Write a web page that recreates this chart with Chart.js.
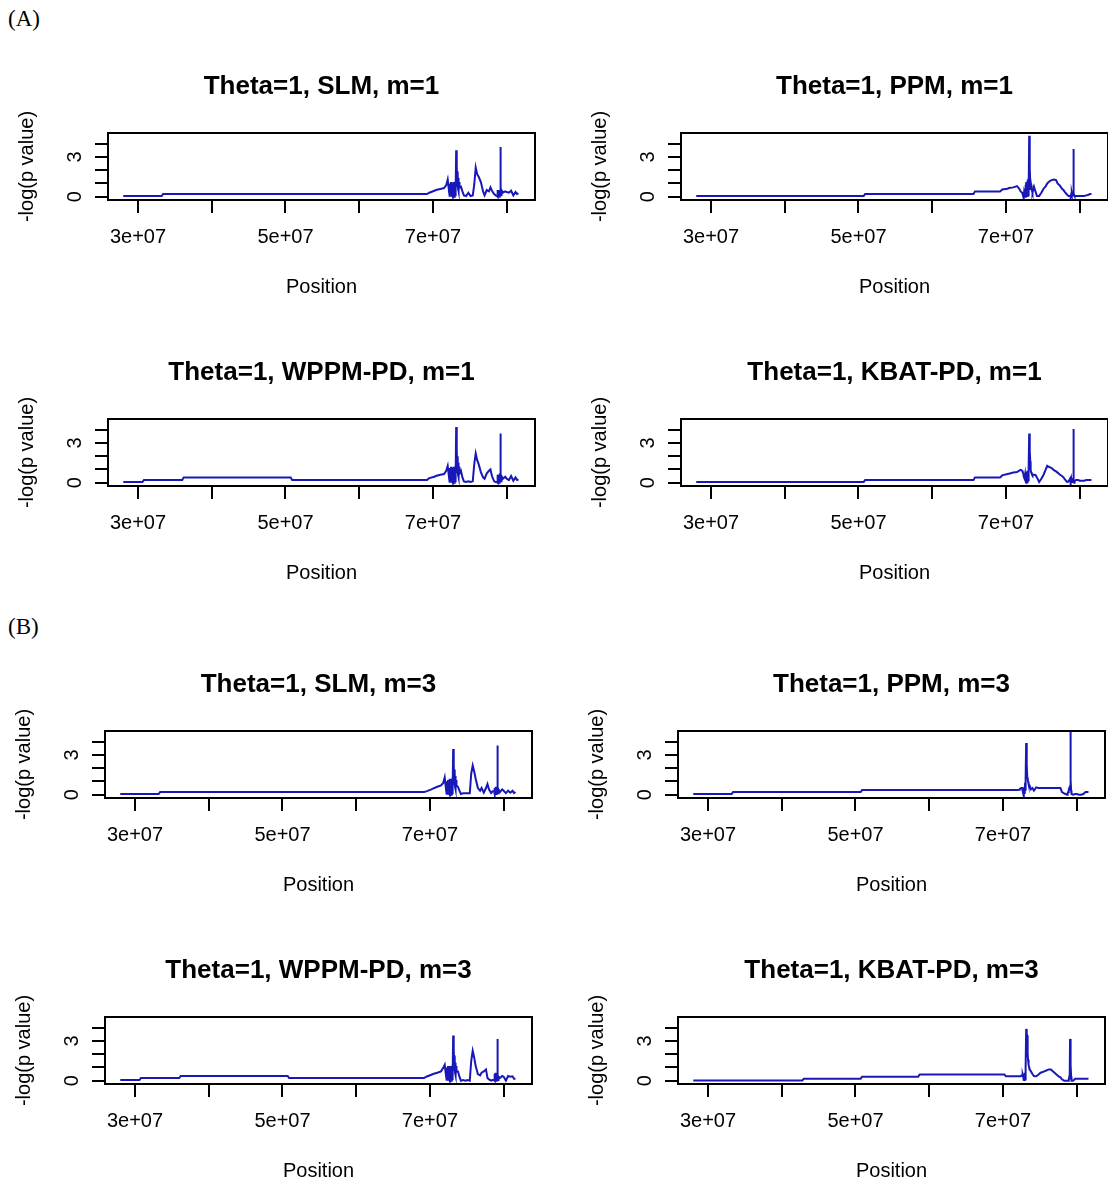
<!DOCTYPE html>
<html>
<head>
<meta charset="utf-8">
<script src="https://cdn.jsdelivr.net/npm/chart.js@4.4.1/dist/chart.umd.min.js"></script>
<style>
  html, body { margin: 0; padding: 0; background: #fff; }
  #page { position: relative; width: 1108px; height: 1179px; overflow: hidden; background: #fff; }
  #page canvas { position: absolute; }
  .tag { position: absolute; font-family: "Liberation Serif", "Times New Roman", serif; font-size: 23px; color: #000; }
</style>
</head>
<body>
<div id="page">
  <div class="tag" style="left:8px;top:6px">(A)</div>
  <div class="tag" style="left:8px;top:614px">(B)</div>
</div>
<script>
// SNP positions in Mb, the same for every panel
const positions = [
  28.0, 30.6, 30.8, 33.2, 33.4, 36.0, 36.2, 42.8, 43.0, 50.7, 50.9, 58.5, 58.7, 65.6, 65.8, 69.2, 69.5, 70.2, 70.4, 71.0, 71.5, 71.8, 72.0,
  72.2, 72.25, 72.3, 72.35, 72.4, 72.45, 72.5, 72.55, 72.6, 72.65, 72.7, 72.75, 72.8, 72.85, 72.9, 72.95, 73.0, 73.05, 73.1, 73.15, 73.2, 73.25, 73.3, 73.35, 73.4, 73.45, 73.5, 73.55, 73.6,
  73.8, 74.0, 74.2, 74.5, 74.8, 75.1, 75.4, 75.6, 75.8, 76.0, 76.2, 76.5, 76.8, 77.0, 77.3, 77.6, 77.8, 78.0, 78.3, 78.5,
  78.7, 78.75, 78.8, 78.85, 78.9, 78.95, 79.0, 79.05, 79.1, 79.15, 79.2, 79.25, 79.3,
  79.5, 79.8, 80.0, 80.3, 80.6, 80.9, 81.2, 81.4, 81.6
];

// -log(p value) for each method
const slmM1 = [
  0.05, 0.05, 0.05, 0.05, 0.2, 0.2, 0.2, 0.2, 0.2, 0.2, 0.2, 0.2, 0.2, 0.2, 0.2, 0.2, 0.3, 0.45, 0.5, 0.58, 0.65, 0.87, 1.3,
  0.3, 1.0, 0.0, 0.9, 0.05, 1.1, 0.0, 0.8, 0.1, 1.0, 0.0, 0.9, 0.05, 1.1, 0.0, 1.0, 0.1, 1.2, 0.3, 3.5, 1.0, 2.3, 0.8, 1.9, 0.6, 1.4, 0.4, 1.1, 0.7,
  0.75, 0.4, 0.1, 0.05, 0.3, 0.05, 0.1, 0.9, 2.2, 1.7, 1.5, 1.1, 0.4, 0.1, 0.5, 0.4, 0.7, 0.45, 0.2, 0.1,
  0.05, 0.5, 0.0, 0.5, 0.05, 0.5, 0.0, 0.5, 0.1, 3.75, 0.5, 0.1, 0.5,
  0.3, 0.4, 0.35, 0.3, 0.45, 0.1, 0.35, 0.2, 0.25
];
const ppmM1 = [
  0.05, 0.05, 0.05, 0.05, 0.05, 0.05, 0.05, 0.05, 0.05, 0.05, 0.2, 0.2, 0.2, 0.2, 0.4, 0.4, 0.55, 0.6, 0.65, 0.7, 0.8, 0.6, 0.4,
  0.3, 0.2, 0.15, 0.1, 0.05, 0.3, 0.05, 0.6, 0.0, 0.9, 0.1, 1.1, 0.0, 1.0, 0.05, 1.3, 0.1, 1.4, 0.2, 4.6, 2.4, 2.2, 1.0, 0.5, 0.9, 0.8, 0.6, 0.4, 0.3,
  0.75, 0.4, 0.05, 0.05, 0.3, 0.6, 0.8, 1.0, 1.1, 1.2, 1.25, 1.3, 1.25, 1.0, 0.85, 0.6, 0.5, 0.35, 0.15, 0.05,
  0.05, 0.1, 0.05, 0.2, 0.05, 0.3, 0.1, 0.4, 0.2, 3.6, 0.3, 0.1, 0.05,
  0.05, 0.05, 0.05, 0.05, 0.05, 0.1, 0.15, 0.2, 0.2
];
const wppmM1 = [
  0.05, 0.05, 0.2, 0.2, 0.2, 0.2, 0.4, 0.4, 0.4, 0.4, 0.2, 0.2, 0.2, 0.2, 0.2, 0.2, 0.35, 0.45, 0.5, 0.6, 0.65, 0.9, 1.27,
  0.3, 1.1, 0.0, 1.0, 0.05, 1.2, 0.0, 0.9, 0.1, 1.1, 0.0, 1.0, 0.05, 1.2, 0.0, 1.1, 0.1, 1.3, 0.3, 4.2, 1.0, 2.6, 0.8, 2.0, 0.6, 1.5, 0.4, 1.2, 0.7,
  0.9, 0.4, 0.1, 0.05, 0.1, 0.05, 0.1, 1.4, 2.2, 1.7, 1.4, 0.8, 0.4, 0.3, 0.7, 0.9, 1.0, 0.5, 0.1, 0.05,
  0.05, 0.6, 0.0, 0.6, 0.05, 0.6, 0.0, 0.7, 0.1, 3.7, 0.6, 0.1, 0.5,
  0.3, 0.45, 0.3, 0.2, 0.5, 0.15, 0.4, 0.2, 0.25
];
const kbatM1 = [
  0.05, 0.05, 0.05, 0.05, 0.05, 0.05, 0.05, 0.05, 0.05, 0.05, 0.2, 0.2, 0.2, 0.2, 0.4, 0.4, 0.55, 0.65, 0.68, 0.76, 0.8, 0.9, 0.96,
  0.9, 0.85, 0.8, 0.7, 0.5, 0.4, 0.45, 0.3, 0.6, 0.1, 0.7, 0.0, 0.8, 0.05, 0.9, 0.0, 0.8, 0.1, 1.0, 3.7, 2.6, 2.4, 1.6, 1.0, 0.8, 0.7, 0.7, 0.65, 0.6,
  0.6, 0.58, 0.4, 0.05, 0.3, 0.6, 1.0, 1.27, 1.2, 1.15, 1.1, 0.95, 0.85, 0.76, 0.62, 0.5, 0.4, 0.25, 0.05, 0.1,
  0.3, 0.2, 0.1, 0.3, 0.0, 0.35, 0.05, 0.3, 0.1, 4.05, 0.2, 0.0, 0.1,
  0.2, 0.2, 0.15, 0.15, 0.15, 0.2, 0.2, 0.2, 0.2
];
const slmM3 = [
  0.05, 0.05, 0.05, 0.05, 0.2, 0.2, 0.2, 0.2, 0.2, 0.2, 0.2, 0.2, 0.2, 0.2, 0.2, 0.2, 0.25, 0.4, 0.45, 0.6, 0.7, 0.88, 1.3,
  0.3, 0.9, 0.0, 1.0, 0.05, 1.1, 0.0, 0.9, 0.1, 1.2, 0.0, 1.0, 0.05, 1.2, 0.0, 1.0, 0.1, 1.3, 0.3, 3.45, 1.0, 2.3, 0.8, 1.9, 0.6, 1.4, 0.4, 1.1, 0.7,
  0.6, 0.3, 0.05, 0.1, 0.1, 0.1, 0.1, 1.6, 2.2, 1.75, 1.2, 0.5, 0.3, 0.5, 0.15, 0.5, 0.8, 0.4, 0.12, 0.25,
  0.25, 0.5, 0.05, 0.5, 0.0, 0.6, 0.05, 0.6, 0.1, 3.7, 0.5, 0.1, 0.4,
  0.2, 0.4, 0.3, 0.12, 0.3, 0.15, 0.3, 0.12, 0.2
];
const ppmM3 = [
  0.05, 0.05, 0.05, 0.05, 0.2, 0.2, 0.2, 0.2, 0.2, 0.2, 0.35, 0.35, 0.35, 0.35, 0.35, 0.35, 0.35, 0.35, 0.35, 0.35, 0.35, 0.35, 0.35,
  0.38, 0.4, 0.42, 0.45, 0.45, 0.48, 0.5, 0.5, 0.5, 0.3, 0.5, 0.1, 0.4, 0.0, 0.6, 0.05, 0.9, 0.3, 1.2, 3.9, 2.5, 2.3, 1.3, 1.25, 1.0, 0.9, 0.8, 0.75, 0.7,
  0.4, 0.5, 0.3, 0.55, 0.5, 0.5, 0.5, 0.5, 0.5, 0.5, 0.5, 0.5, 0.5, 0.5, 0.5, 0.5, 0.5, 0.2, 0.1, 0.05,
  0.0, 0.05, 0.1, 0.2, 0.3, 0.4, 0.5, 0.3, 0.6, 4.85, 1.1, 0.3, 0.05,
  0.0, 0.05, 0.05, 0.0, 0.0, 0.05, 0.2, 0.2, 0.2
];
const wppmM3 = [
  0.05, 0.05, 0.2, 0.2, 0.2, 0.2, 0.36, 0.36, 0.36, 0.36, 0.2, 0.2, 0.2, 0.2, 0.2, 0.2, 0.3, 0.45, 0.5, 0.6, 0.7, 0.97, 1.2,
  0.3, 1.0, 0.0, 0.9, 0.05, 1.1, 0.0, 0.9, 0.1, 1.1, 0.0, 1.0, 0.05, 1.1, 0.0, 1.0, 0.1, 1.2, 0.3, 3.4, 1.0, 2.4, 0.8, 1.9, 0.6, 1.35, 0.4, 1.1, 0.7,
  0.7, 0.3, 0.0, 0.05, 0.0, 0.05, 0.0, 1.5, 2.25, 1.75, 1.1, 0.5, 0.4, 0.6, 0.7, 0.85, 0.2, 0.1, 0.0, 0.05,
  0.05, 0.5, 0.0, 0.55, 0.05, 0.6, 0.0, 0.6, 0.1, 3.15, 0.5, 0.05, 0.3,
  0.2, 0.35, 0.3, 0.0, 0.35, 0.3, 0.33, 0.15, 0.15
];
const kbatM3 = [
  0.02, 0.02, 0.02, 0.02, 0.02, 0.02, 0.02, 0.02, 0.15, 0.15, 0.3, 0.3, 0.46, 0.46, 0.46, 0.46, 0.46, 0.46, 0.33, 0.33, 0.33, 0.33, 0.33,
  0.33, 0.33, 0.33, 0.33, 0.33, 0.35, 0.35, 0.4, 0.4, 0.45, 0.46, 0.3, 0.0, 0.5, 0.05, 0.6, 0.1, 0.8, 1.0, 3.9, 3.6, 3.5, 3.4, 2.0, 1.6, 1.5, 1.2, 1.0, 0.85,
  0.7, 0.5, 0.35, 0.33, 0.45, 0.6, 0.65, 0.7, 0.75, 0.8, 0.85, 0.85, 0.7, 0.6, 0.45, 0.3, 0.25, 0.1, 0.0, 0.0,
  0.0, 0.0, 0.0, 0.0, 0.0, 0.1, 0.3, 0.1, 3.15, 1.3, 1.2, 0.3, 0.0,
  0.0, 0.15, 0.15, 0.15, 0.15, 0.15, 0.15, 0.15, 0.15
];

const panelTitles = [
  'Theta=1, SLM, m=1', 'Theta=1, PPM, m=1', 'Theta=1, WPPM-PD, m=1', 'Theta=1, KBAT-PD, m=1',
  'Theta=1, SLM, m=3', 'Theta=1, PPM, m=3', 'Theta=1, WPPM-PD, m=3', 'Theta=1, KBAT-PD, m=3'
];
const xTicks = [30, 40, 50, 60, 70, 80];
const xTickLabels = ['3e+07', '', '5e+07', '', '7e+07', ''];
const yTicks = [0, 1, 2, 3, 4];
const yTickLabels = ['0', '', '', '3', ''];

// where each plot box sits on the page
const panels = [
  { title: panelTitles[0], values: slmM1, left: 108, top: 133 },
  { title: panelTitles[1], values: ppmM1, left: 681, top: 133 },
  { title: panelTitles[2], values: wppmM1, left: 108, top: 419 },
  { title: panelTitles[3], values: kbatM1, left: 681, top: 419 },
  { title: panelTitles[4], values: slmM3, left: 105, top: 731 },
  { title: panelTitles[5], values: ppmM3, left: 678, top: 731 },
  { title: panelTitles[6], values: wppmM3, left: 105, top: 1017 },
  { title: panelTitles[7], values: kbatM3, left: 678, top: 1017 }
];

const FONT = '"Liberation Sans", Arial, sans-serif';
const AXIS_W = 108, TITLE_H = 90, XAXIS_H = 105, RIGHT_PAD = 25;
const PLOT_W = 427, PLOT_H = 67;

Chart.defaults.font.family = FONT;
Chart.defaults.color = '#000';

// R style box round the plot region
const frame = {
  id: 'frame',
  afterDraw(chart) {
    const { ctx, chartArea: a } = chart;
    ctx.save();
    ctx.strokeStyle = '#000';
    ctx.lineWidth = 2;
    ctx.strokeRect(a.left, a.top, a.right - a.left, a.bottom - a.top);
    ctx.restore();
  }
};

const page = document.getElementById('page');

function makePanel(p) {
  const canvas = document.createElement('canvas');
  canvas.width = AXIS_W + PLOT_W + RIGHT_PAD;
  canvas.height = TITLE_H + PLOT_H + XAXIS_H;
  canvas.style.left = (p.left - AXIS_W) + 'px';
  canvas.style.top = (p.top - TITLE_H) + 'px';
  page.appendChild(canvas);

  new Chart(canvas, {
    type: 'line',
    data: {
      datasets: [{
        data: positions.map((x, i) => ({ x: x, y: p.values[i] })),
        borderColor: '#1818b8',
        borderWidth: 2,
        pointRadius: 0,
        tension: 0,
        fill: false
      }]
    },
    options: {
      responsive: false,
      animation: false,
      devicePixelRatio: 1,
      layout: { padding: { right: RIGHT_PAD } },
      plugins: {
        legend: { display: false },
        tooltip: { enabled: false },
        title: {
          display: true,
          text: p.title,
          fullSize: false,
          color: '#000',
          font: { size: 26, weight: 'bold' },
          padding: { top: 28, bottom: 30.8 }
        }
      },
      scales: {
        x: {
          type: 'linear',
          min: 25.93,
          max: 83.84,
          afterBuildTicks: s => { s.ticks = xTicks.map(v => ({ value: v })); },
          afterFit: s => { s.height = XAXIS_H; },
          grid: { drawOnChartArea: false, tickLength: 13, color: '#000', lineWidth: 2 },
          border: { display: false },
          ticks: {
            autoSkip: false, maxRotation: 0, padding: 12,
            font: { size: 20 },
            callback: (v, i) => xTickLabels[i]
          },
          title: { display: true, text: 'Position', font: { size: 20 }, padding: { top: 0, bottom: 6 } }
        },
        y: {
          min: -0.25,
          max: 4.8,
          afterBuildTicks: s => { s.ticks = yTicks.map(v => ({ value: v })); },
          afterFit: s => { s.width = AXIS_W; },
          grid: { drawOnChartArea: false, tickLength: 13, color: '#000', lineWidth: 2 },
          border: { display: false },
          ticks: {
            autoSkip: false, minRotation: 90, maxRotation: 90, crossAlign: 'center', padding: 14,
            font: { size: 20 },
            callback: (v, i) => yTickLabels[i]
          },
          title: { display: true, text: '-log(p value)', font: { size: 20 }, padding: { top: 15, bottom: 0 } }
        }
      }
    },
    plugins: [frame]
  });
}

panels.forEach(makePanel);
</script>
</body>
</html>
